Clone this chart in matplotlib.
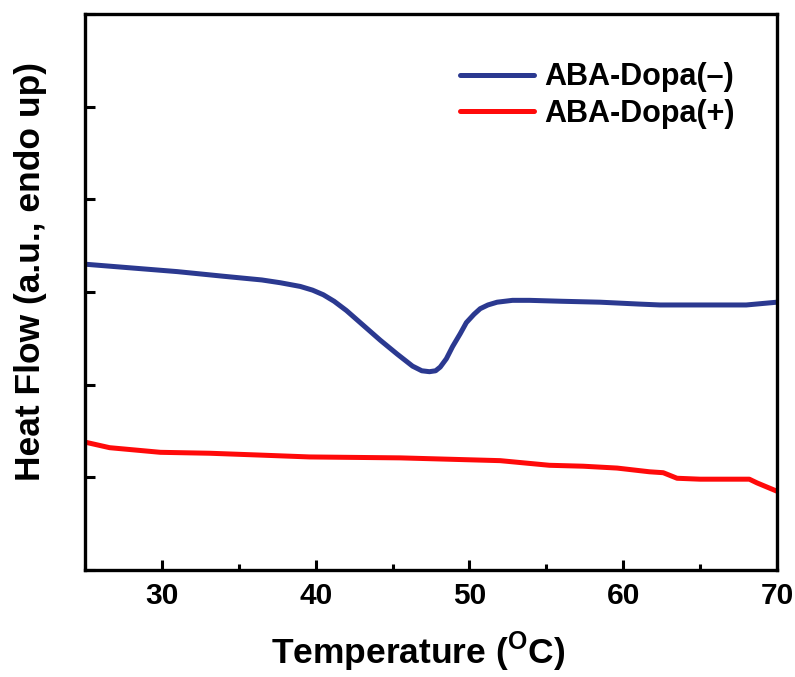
import matplotlib
matplotlib.use("Agg")
import matplotlib.pyplot as plt
from matplotlib.ticker import MultipleLocator

# DSC traces
temp_minus = [25.0, 28.0, 31.0, 34.0, 36.5, 37.7, 39.0, 39.8, 40.5, 41.2, 42.0,
              43.1, 44.2, 45.3, 46.3, 46.9, 47.4, 47.8, 48.1, 48.5, 48.9, 49.4,
              49.8, 50.3, 50.7, 51.2, 51.8, 52.8, 53.9, 56.0, 58.5, 61.0, 62.4,
              65.0, 68.0, 70.0]
heat_minus = [3.30, 3.26, 3.22, 3.17, 3.13, 3.10, 3.06, 3.02, 2.97, 2.90, 2.80,
              2.64, 2.48, 2.33, 2.20, 2.15, 2.14, 2.15, 2.19, 2.28, 2.41, 2.55,
              2.67, 2.76, 2.82, 2.86, 2.89, 2.91, 2.91, 2.90, 2.89, 2.87, 2.86,
              2.86, 2.86, 2.89]

temp_plus = [25.0, 26.6, 29.9, 33.1, 36.4, 39.6, 45.5, 52.0, 55.2, 57.4, 59.6,
             61.7, 62.6, 63.5, 65.0, 68.2, 68.7, 70.0]
heat_plus = [1.38, 1.32, 1.27, 1.26, 1.24, 1.22, 1.21, 1.18, 1.13, 1.12, 1.10,
             1.06, 1.05, 0.99, 0.98, 0.98, 0.94, 0.85]

labels = ["ABA-Dopa(\u2013)", "ABA-Dopa(+)"]
colors = ["#2b3990", "#ff0a0a"]

plt.rcParams["font.family"] = ["Liberation Sans", "DejaVu Sans"]
plt.rcParams["font.weight"] = "bold"
plt.rcParams["mathtext.fontset"] = "custom"
plt.rcParams["mathtext.rm"] = "Liberation Sans:bold"

fig = plt.figure(figsize=(7.95, 6.77), dpi=100)
ax = fig.add_axes([85 / 795, 1 - 570 / 677, 692 / 795, 556 / 677])

ax.plot(temp_minus, heat_minus, color=colors[0], lw=3.6, label=labels[0],
        solid_capstyle="round", solid_joinstyle="round")
ax.plot(temp_plus, heat_plus, color=colors[1], lw=3.6, label=labels[1],
        solid_capstyle="round", solid_joinstyle="round")

ax.set_xlim(25, 70)
ax.set_ylim(0, 6)
ax.xaxis.set_major_locator(MultipleLocator(10))
ax.xaxis.set_minor_locator(MultipleLocator(5))
ax.yaxis.set_major_locator(MultipleLocator(1))
ax.set_yticklabels([])
ax.tick_params(direction="in", width=2.2, length=7, labelsize=21.5, pad=9)
ax.tick_params(which="minor", direction="in", width=2.2, length=4)
for sp in ax.spines.values():
    sp.set_linewidth(2.4)

ax.set_xlabel("Temperature ($^{\\mathrm{O}}$C)", fontsize=25.5, fontweight="bold")
ax.set_ylabel("Heat Flow (a.u., endo up)", fontsize=25.5, fontweight="bold")
ax.xaxis.set_label_coords(0.481, -0.108)
ax.yaxis.set_label_coords(-0.055, 0.536)

ax.legend(loc="upper right", bbox_to_anchor=(0.957, 0.935), borderaxespad=0,
          frameon=False, fontsize=22, handlelength=2.4, handletextpad=0.36,
          labelspacing=0.22)

fig.savefig("out.png", dpi=100)
